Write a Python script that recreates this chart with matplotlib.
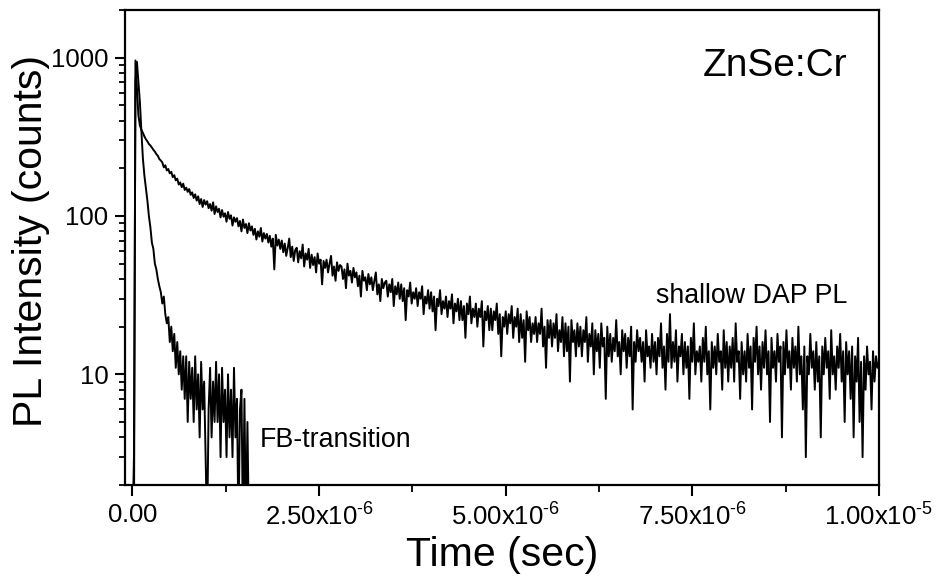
import numpy as np
import matplotlib
matplotlib.use("Agg")
import matplotlib.pyplot as plt
from matplotlib.ticker import FixedLocator, LogLocator, NullFormatter, FixedFormatter

# ---------------- data ----------------
dap_step = 0.02e-6   # channel width of the shallow DAP trace (s)
fb_step = 0.02e-6    # channel width of the FB trace (s)

dap_counts = [
    1, 1, 960, 640, 430, 372, 350, 335, 318, 305,
    296, 285, 279, 270, 262, 255, 246, 240, 229, 224,
    218, 203, 209, 194, 198, 186, 190, 176, 181, 168,
    172, 158, 163, 152, 160, 146, 151, 142, 148, 136,
    141, 130, 137, 125, 133, 119, 128, 114, 126, 118,
    124, 112, 119, 108, 122, 103, 115, 106, 111, 98,
    109, 99, 104, 92, 106, 96, 101, 87, 98, 92,
    97, 86, 93, 80, 95, 84, 89, 78, 90, 81,
    86, 76, 83, 71, 80, 74, 84, 69, 78, 72,
    77, 68, 75, 64, 72, 46, 76, 65, 71, 62,
    70, 59, 67, 56, 63, 72, 55, 64, 52, 61,
    63, 51, 60, 54, 66, 48, 58, 53, 62, 47,
    57, 49, 55, 44, 58, 50, 53, 37, 52, 47,
    53, 44, 50, 56, 42, 48, 39, 51, 45, 49,
    48, 40, 46, 35, 50, 42, 45, 38, 47, 41,
    44, 36, 42, 31, 45, 39, 41, 34, 43, 37,
    41, 34, 39, 44, 32, 37, 29, 40, 35, 38,
    39, 31, 37, 33, 40, 27, 36, 32, 38, 30,
    37, 29, 35, 22, 34, 31, 38, 28, 33, 30,
    35, 27, 33, 30, 36, 24, 31, 28, 34, 26,
    33, 25, 31, 19, 30, 27, 34, 24, 29, 26,
    31, 23, 29, 26, 32, 21, 28, 25, 30, 22,
    29, 22, 27, 17, 28, 24, 31, 21, 26, 23,
    28, 20, 26, 23, 29, 15, 25, 22, 27, 19,
    26, 19, 25, 22, 28, 18, 24, 13, 23, 20,
    25, 18, 24, 21, 27, 17, 23, 20, 26, 16,
    24, 17, 22, 12, 25, 19, 23, 16, 21, 18,
    23, 16, 21, 18, 26, 15, 20, 11, 22, 17,
    22, 15, 21, 17, 24, 14, 19, 16, 23, 13,
    21, 14, 20, 9, 22, 16, 19, 13, 21, 15,
    20, 13, 19, 16, 23, 12, 18, 15, 21, 10,
    19, 14, 18, 11, 21, 15, 17, 7, 20, 13,
    18, 12, 17, 14, 22, 13, 16, 10, 19, 14,
    18, 11, 17, 13, 20, 6, 16, 12, 19, 14,
    17, 12, 16, 9, 19, 13, 15, 11, 18, 12,
    16, 10, 17, 13, 21, 11, 15, 8, 18, 12,
    24, 11, 16, 12, 19, 9, 15, 13, 18, 10,
    16, 11, 15, 7, 17, 12, 21, 10, 14, 12,
    15, 9, 17, 12, 20, 10, 14, 6, 16, 11,
    15, 10, 18, 12, 14, 8, 19, 11, 16, 9,
    15, 11, 17, 9, 21, 12, 14, 7, 16, 10,
    14, 9, 18, 11, 15, 6, 17, 12, 20, 10,
    15, 8, 16, 11, 19, 10, 14, 5, 17, 11,
    14, 9, 18, 12, 15, 4, 16, 10, 19, 11,
    14, 8, 17, 11, 15, 9, 20, 10, 13, 6,
    15, 3, 13, 10, 18, 11, 14, 8, 16, 9,
    13, 4, 15, 10, 17, 11, 14, 7, 19, 10,
    13, 8, 15, 11, 18, 9, 14, 5, 16, 10,
    14, 7, 15, 4, 13, 9, 17, 5, 12, 3,
    13, 8, 15, 10, 12, 6, 14, 9, 13, 11,
    12,
]

fb_counts = [
    1, 3, 700, 940, 700, 520, 340, 230, 180, 150,
    125, 100, 85, 68, 62, 50, 46, 40, 36, 33,
    28, 31, 24, 21, 23, 16, 20, 14, 18, 11,
    16, 10, 14, 8, 13, 7, 13, 5, 12, 7,
    11, 5, 13, 6, 10, 4, 12, 6, 9, 3,
    1, 6, 11, 4, 9, 5, 12, 5, 10, 3,
    11, 5, 8, 3, 10, 4, 8, 3, 11, 4,
    7, 1, 6, 8, 1, 7, 1, 5, 1,
]

x_ticks = [0.0, 2.5e-6, 5.0e-6, 7.5e-6, 1.0e-5]
x_minor_ticks = [1.25e-6, 3.75e-6, 6.25e-6, 8.75e-6]
x_tick_labels = ["0.00", "2.50x10^{\u20106}", "5.00x10^{\u20106}",
                 "7.50x10^{\u20106}", "1.00x10^{\u20105}"]
y_ticks = [10, 100, 1000]
y_tick_labels = ["10", "100", "1000"]

# ---------------- style ----------------
plt.rcParams["font.family"] = ["Liberation Sans", "DejaVu Sans"]
plt.rcParams["mathtext.fontset"] = "custom"
plt.rcParams["mathtext.rm"] = "Liberation Sans"
plt.rcParams["mathtext.it"] = "Liberation Sans:italic"
plt.rcParams["mathtext.bf"] = "Liberation Sans:bold"

t_dap = np.arange(len(dap_counts)) * dap_step
t_fb = np.arange(len(fb_counts)) * fb_step

fig = plt.figure(figsize=(9.37, 5.77), dpi=100)
ax = fig.add_axes([0.1334, 0.1594, 0.8047, 0.8233])

ax.plot(t_dap, dap_counts, color="black", lw=1.4)
ax.plot(t_fb, fb_counts, color="black", lw=1.4)

ax.set_yscale("log")
ax.set_xlim(-1.0e-7, 1.0e-5)
ax.set_ylim(2, 2000)

ax.xaxis.set_major_locator(FixedLocator(x_ticks))
ax.xaxis.set_major_formatter(FixedFormatter(
    [r"$\mathregular{%s}$" % s for s in x_tick_labels]))
ax.xaxis.set_minor_locator(FixedLocator(x_minor_ticks))
ax.yaxis.set_major_locator(FixedLocator(y_ticks))
ax.yaxis.set_major_formatter(FixedFormatter(y_tick_labels))
ax.yaxis.set_minor_locator(LogLocator(base=10, subs=np.arange(2, 10), numticks=20))
ax.yaxis.set_minor_formatter(NullFormatter())

for s in ax.spines.values():
    s.set_linewidth(1.6)

ax.tick_params(axis="both", which="both", direction="out", top=False, right=False)
ax.tick_params(axis="x", which="major", length=8, width=1.5, labelsize=18.5, pad=5)
ax.tick_params(axis="x", which="minor", length=5, width=1.3)
ax.tick_params(axis="y", which="major", length=7, width=1.5, labelsize=18.5, pad=5)
ax.tick_params(axis="y", which="minor", length=4.5, width=1.3)

ax.set_xlabel("Time (sec)", fontsize=29.5)
ax.set_ylabel("PL Intensity (counts)", fontsize=29.5)
ax.xaxis.set_label_coords(0.5, -0.108)
ax.yaxis.set_label_coords(-0.099, 0.514)

ax.text(9.58e-6, 770, "ZnSe:Cr", fontsize=28, ha="right", va="baseline")
ax.text(9.58e-6, 28.2, "shallow DAP PL", fontsize=19.3, ha="right", va="baseline")
ax.text(1.71e-6, 3.48, "FB-transition", fontsize=19.3, ha="left", va="baseline")

fig.savefig("out.png", dpi=100)
